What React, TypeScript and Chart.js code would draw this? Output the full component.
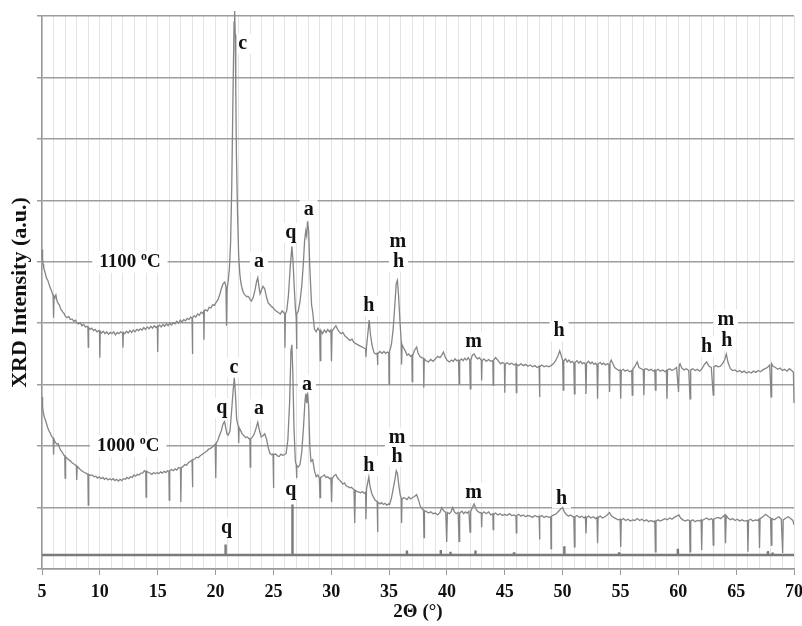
import React, { useEffect, useRef } from "react";
import { Chart, registerables } from "chart.js";

Chart.register(...registerables);

// 2θ range and tick step
const X_MIN = 5;
const X_MAX = 70;
const Y_MAX = 9000;
const Y_STEP = 1000;

// XRD pattern, sample fired at 1100 °C : [2θ, intensity]
const PATTERN_1100: [number, number][] = [
  [5.0, 5200], [5.05, 5050], [5.1, 4960], [5.15, 4900], [5.2, 4870], [5.3, 4800], [5.4, 4730], [5.5, 4700],
  [5.6, 4640], [5.7, 4580], [5.8, 4540], [5.9, 4480], [5.96, 4450], [6.0, 4090], [6.04, 4440], [6.1, 4420],
  [6.2, 4460], [6.3, 4360], [6.4, 4320], [6.5, 4300], [6.6, 4240], [6.7, 4210], [6.8, 4180], [6.9, 4160],
  [7.0, 4120], [7.15, 4090], [7.3, 4110], [7.45, 4060], [7.6, 4070], [7.75, 4030], [7.9, 4050], [8.0, 4010],
  [8.15, 3990], [8.3, 4010], [8.45, 3960], [8.6, 3980], [8.75, 3940], [8.9, 3950], [8.97, 3930], [9.0, 3610],
  [9.03, 3930], [9.15, 3900], [9.3, 3920], [9.45, 3880], [9.6, 3900], [9.75, 3860], [9.9, 3880], [9.97, 3860],
  [10.0, 3440], [10.03, 3870], [10.15, 3840], [10.3, 3870], [10.45, 3830], [10.6, 3860], [10.75, 3820],
  [10.9, 3850], [11.05, 3830], [11.2, 3860], [11.35, 3810], [11.5, 3850], [11.65, 3830], [11.8, 3860],
  [11.97, 3840], [12.0, 3600], [12.03, 3850], [12.15, 3830], [12.3, 3870], [12.45, 3840], [12.6, 3880],
  [12.75, 3850], [12.9, 3890], [13.05, 3860], [13.2, 3900], [13.35, 3880], [13.5, 3910], [13.65, 3890],
  [13.8, 3930], [13.95, 3900], [14.1, 3940], [14.25, 3910], [14.4, 3950], [14.55, 3920], [14.7, 3960],
  [14.85, 3930], [14.97, 3950], [15.0, 3530], [15.03, 3940], [15.15, 3970], [15.3, 3940], [15.45, 3980],
  [15.6, 3950], [15.75, 3990], [15.9, 3960], [16.05, 4000], [16.2, 3970], [16.35, 4010], [16.5, 3990],
  [16.65, 4030], [16.8, 4000], [16.95, 4050], [17.1, 4020], [17.25, 4060], [17.4, 4040], [17.55, 4080],
  [17.7, 4060], [17.85, 4100], [17.97, 4080], [18.0, 3500], [18.03, 4090], [18.15, 4120], [18.3, 4100],
  [18.45, 4150], [18.6, 4130], [18.75, 4180], [18.9, 4160], [18.97, 4190], [19.0, 3730], [19.03, 4200],
  [19.15, 4220], [19.3, 4200], [19.45, 4260], [19.6, 4250], [19.75, 4300], [19.9, 4290], [20.05, 4340],
  [20.2, 4380], [20.35, 4460], [20.5, 4560], [20.65, 4640], [20.8, 4670], [20.9, 4600], [20.95, 3960],
  [21.0, 4550], [21.1, 4700], [21.2, 4900], [21.3, 5300], [21.4, 6200], [21.5, 7600], [21.6, 8900],
  [21.65, 9080], [21.7, 8700], [21.75, 7800], [21.8, 6800], [21.9, 5800], [22.0, 5100], [22.1, 4800],
  [22.2, 4650], [22.3, 4560], [22.4, 4500], [22.5, 4470], [22.6, 4450], [22.7, 4430], [22.8, 4440],
  [22.9, 4420], [23.0, 4380], [23.1, 4360], [23.25, 4420], [23.4, 4530], [23.55, 4680], [23.65, 4740],
  [23.75, 4600], [23.85, 4480], [23.95, 4530], [24.1, 4600], [24.25, 4560], [24.4, 4430], [24.55, 4330],
  [24.7, 4300], [24.85, 4270], [25.0, 4250], [25.15, 4210], [25.3, 4190], [25.45, 4170], [25.6, 4150],
  [25.75, 4200], [25.9, 4170], [25.97, 4160], [26.0, 3600], [26.04, 4150], [26.15, 4200], [26.3, 4450],
  [26.45, 4900], [26.6, 5250], [26.7, 5000], [26.8, 4600], [26.9, 4250], [26.97, 4100], [27.0, 3580],
  [27.04, 4150], [27.15, 4200], [27.3, 4350], [27.45, 4600], [27.6, 5000], [27.7, 5350], [27.8, 5500],
  [27.88, 5420], [27.95, 5660], [28.05, 5500], [28.15, 4900], [28.3, 4300], [28.4, 4180], [28.55, 3900],
  [28.7, 3860], [28.85, 3920], [29.0, 3870], [29.05, 3390], [29.1, 3880], [29.25, 3830], [29.4, 3890],
  [29.55, 3850], [29.7, 3900], [29.85, 3860], [29.97, 3890], [30.02, 3380], [30.07, 3870], [30.25, 3920],
  [30.4, 3960], [30.55, 3900], [30.7, 3860], [30.85, 3830], [31.0, 3850], [31.2, 3790], [31.4, 3760],
  [31.6, 3720], [31.8, 3740], [31.95, 3690], [32.2, 3660], [32.4, 3640], [32.6, 3620], [32.8, 3600],
  [32.97, 3580], [33.0, 3450], [33.05, 3620], [33.15, 3800], [33.28, 4050], [33.4, 3800], [33.55, 3620],
  [33.7, 3520], [33.85, 3500], [33.97, 3510], [34.0, 3320], [34.04, 3500], [34.2, 3540], [34.4, 3510],
  [34.55, 3540], [34.7, 3510], [34.85, 3530], [34.97, 3520], [35.0, 3010], [35.04, 3540], [35.2, 3650],
  [35.35, 3900], [35.5, 4300], [35.62, 4650], [35.72, 4700], [35.82, 4450], [35.95, 4000], [36.05, 3700],
  [36.08, 3330], [36.12, 3650], [36.25, 3600], [36.4, 3550], [36.55, 3480], [36.7, 3500], [36.85, 3460],
  [36.97, 3480], [37.0, 3050], [37.04, 3470], [37.2, 3560], [37.38, 3610], [37.5, 3520], [37.65, 3460],
  [37.8, 3440], [37.97, 3430], [38.0, 2950], [38.04, 3420], [38.2, 3390], [38.4, 3370], [38.6, 3410],
  [38.8, 3380], [39.0, 3420], [39.2, 3460], [39.4, 3440], [39.55, 3480], [39.7, 3530], [39.85, 3450],
  [40.0, 3400], [40.2, 3370], [40.4, 3400], [40.55, 3380], [40.7, 3420], [40.85, 3390], [41.0, 3400],
  [41.06, 3010], [41.1, 3390], [41.25, 3420], [41.4, 3390], [41.55, 3430], [41.7, 3400], [41.85, 3440],
  [41.97, 3400], [42.02, 2930], [42.07, 3400], [42.2, 3480], [42.35, 3500], [42.5, 3450], [42.65, 3420],
  [42.8, 3440], [42.97, 3400], [43.0, 3070], [43.04, 3390], [43.2, 3420], [43.4, 3380], [43.6, 3410],
  [43.8, 3380], [43.97, 3390], [44.0, 2990], [44.04, 3400], [44.2, 3440], [44.35, 3410], [44.5, 3370],
  [44.65, 3340], [44.8, 3360], [44.97, 3340], [45.0, 2870], [45.04, 3330], [45.2, 3360], [45.4, 3330],
  [45.6, 3350], [45.8, 3320], [45.97, 3340], [46.0, 2870], [46.04, 3330], [46.2, 3310], [46.4, 3340],
  [46.6, 3310], [46.8, 3330], [47.0, 3300], [47.2, 3320], [47.4, 3290], [47.6, 3310], [47.8, 3280],
  [47.97, 3300], [48.0, 2800], [48.04, 3290], [48.2, 3320], [48.4, 3290], [48.6, 3310], [48.8, 3290],
  [49.0, 3310], [49.2, 3340], [49.4, 3390], [49.6, 3470], [49.75, 3550], [49.9, 3460], [50.0, 3400],
  [50.06, 2910], [50.1, 3390], [50.25, 3420], [50.4, 3370], [50.55, 3400], [50.7, 3360], [50.85, 3380],
  [50.97, 3350], [51.02, 2850], [51.07, 3360], [51.25, 3390], [51.4, 3350], [51.55, 3380], [51.7, 3340],
  [51.85, 3360], [51.97, 3330], [52.02, 2850], [52.07, 3350], [52.25, 3380], [52.4, 3340], [52.55, 3370],
  [52.7, 3330], [52.85, 3350], [52.97, 3320], [53.02, 2770], [53.07, 3340], [53.25, 3360], [53.4, 3330],
  [53.55, 3350], [53.7, 3320], [53.85, 3340], [54.0, 3330], [54.06, 2880], [54.1, 3360], [54.2, 3400],
  [54.35, 3340], [54.5, 3280], [54.7, 3250], [54.85, 3230], [54.97, 3240], [55.02, 2770], [55.07, 3230],
  [55.25, 3250], [55.4, 3220], [55.6, 3240], [55.8, 3210], [55.97, 3230], [56.02, 2830], [56.07, 3250],
  [56.25, 3300], [56.45, 3370], [56.6, 3280], [56.8, 3260], [56.97, 3240], [57.02, 2830], [57.07, 3250],
  [57.25, 3260], [57.45, 3230], [57.65, 3250], [57.85, 3220], [57.97, 3240], [58.02, 2910], [58.07, 3230],
  [58.25, 3250], [58.45, 3220], [58.65, 3240], [58.85, 3210], [58.97, 3230], [59.02, 2770], [59.07, 3240],
  [59.25, 3260], [59.45, 3230], [59.65, 3250], [59.85, 3280], [60.02, 2880], [60.08, 3320], [60.15, 3340],
  [60.3, 3270], [60.5, 3240], [60.7, 3260], [60.9, 3230], [61.02, 2770], [61.07, 3240], [61.25, 3260],
  [61.45, 3230], [61.65, 3250], [61.85, 3220], [62.05, 3260], [62.25, 3330], [62.45, 3370], [62.65, 3300],
  [62.85, 3280], [63.02, 2830], [63.07, 3290], [63.25, 3310], [63.45, 3290], [63.65, 3300], [63.85, 3350],
  [64.0, 3400], [64.15, 3500], [64.3, 3360], [64.5, 3260], [64.7, 3230], [64.9, 3240], [65.1, 3210],
  [65.3, 3230], [65.5, 3200], [65.7, 3220], [65.9, 3190], [66.1, 3210], [66.3, 3190], [66.5, 3220],
  [66.7, 3200], [66.9, 3230], [67.1, 3210], [67.3, 3240], [67.5, 3260], [67.7, 3280], [67.9, 3320],
  [68.02, 2800], [68.07, 3340], [68.2, 3300], [68.4, 3280], [68.6, 3250], [68.8, 3270], [69.0, 3230],
  [69.2, 3250], [69.4, 3220], [69.6, 3260], [69.8, 3230], [69.95, 3200], [70.0, 2700],
];

// XRD pattern, sample fired at 1000 °C : [2θ, intensity]
const PATTERN_1000: [number, number][] = [
  [5.0, 2800], [5.05, 2650], [5.1, 2560], [5.2, 2470], [5.3, 2420], [5.4, 2360], [5.5, 2300], [5.6, 2250],
  [5.7, 2220], [5.8, 2170], [5.9, 2140], [5.97, 2120], [6.0, 1860], [6.04, 2110], [6.15, 2060], [6.3, 2030],
  [6.4, 2040], [6.5, 1980], [6.6, 1940], [6.75, 1900], [6.9, 1850], [6.97, 1840], [7.0, 1480], [7.04, 1830],
  [7.15, 1800], [7.3, 1780], [7.45, 1760], [7.6, 1730], [7.75, 1710], [7.9, 1690], [7.97, 1680], [8.0, 1450],
  [8.04, 1670], [8.2, 1640], [8.35, 1610], [8.5, 1590], [8.65, 1570], [8.8, 1560], [8.97, 1540], [9.0, 1040],
  [9.04, 1540], [9.2, 1520], [9.35, 1530], [9.5, 1500], [9.65, 1510], [9.8, 1480], [9.95, 1500], [10.1, 1470],
  [10.25, 1490], [10.4, 1460], [10.55, 1480], [10.7, 1450], [10.85, 1470], [11.0, 1450], [11.15, 1470],
  [11.3, 1440], [11.45, 1460], [11.6, 1430], [11.75, 1460], [11.9, 1440], [12.05, 1470], [12.2, 1460],
  [12.35, 1490], [12.5, 1470], [12.65, 1500], [12.8, 1490], [12.95, 1530], [13.1, 1510], [13.25, 1540],
  [13.4, 1530], [13.55, 1560], [13.7, 1560], [13.85, 1600], [13.97, 1580], [14.0, 1170], [14.04, 1590],
  [14.2, 1570], [14.35, 1560], [14.5, 1540], [14.65, 1570], [14.8, 1550], [14.95, 1570], [15.1, 1550],
  [15.25, 1580], [15.4, 1560], [15.55, 1590], [15.7, 1570], [15.85, 1600], [15.97, 1590], [16.0, 1120],
  [16.04, 1600], [16.2, 1620], [16.35, 1600], [16.5, 1630], [16.65, 1610], [16.8, 1650], [16.97, 1640],
  [17.0, 1090], [17.04, 1650], [17.2, 1670], [17.35, 1700], [17.5, 1690], [17.65, 1730], [17.8, 1750],
  [17.97, 1770], [18.0, 1330], [18.04, 1780], [18.2, 1790], [18.35, 1820], [18.5, 1810], [18.65, 1840],
  [18.8, 1860], [18.95, 1880], [19.1, 1900], [19.25, 1920], [19.4, 1950], [19.55, 1960], [19.7, 1980],
  [19.85, 2010], [19.97, 2030], [20.02, 1480], [20.06, 2050], [20.2, 2090], [20.35, 2180], [20.5, 2250],
  [20.6, 2330], [20.7, 2380], [20.78, 2400], [20.88, 2300], [20.98, 2200], [21.1, 2180], [21.25, 2250],
  [21.4, 2600], [21.52, 2900], [21.62, 3110], [21.72, 2850], [21.82, 2450], [21.92, 2350], [21.97, 2330],
  [22.0, 2050], [22.04, 2300], [22.15, 2260], [22.3, 2200], [22.45, 2170], [22.6, 2140], [22.75, 2150],
  [22.9, 2120], [22.97, 2130], [23.0, 1660], [23.04, 2120], [23.2, 2150], [23.35, 2200], [23.5, 2290],
  [23.65, 2390], [23.8, 2250], [23.95, 2150], [24.1, 2170], [24.25, 2200], [24.4, 2120], [24.55, 1980],
  [24.7, 1880], [24.85, 1860], [24.97, 1870], [25.0, 1320], [25.04, 1860], [25.2, 1870], [25.35, 1840],
  [25.5, 1830], [25.65, 1870], [25.8, 1850], [25.95, 1860], [26.1, 1880], [26.25, 2100], [26.4, 2700],
  [26.52, 3550], [26.6, 3650], [26.68, 3200], [26.78, 2300], [26.9, 1750], [26.97, 1700], [27.0, 1480],
  [27.04, 1680], [27.15, 1660], [27.3, 1700], [27.45, 1900], [27.6, 2300], [27.72, 2700], [27.8, 2850],
  [27.88, 2700], [27.95, 2870], [28.05, 2640], [28.15, 2000], [28.25, 1750], [28.4, 1780], [28.55, 1600],
  [28.7, 1500], [28.85, 1530], [28.97, 1480], [29.03, 1160], [29.08, 1490], [29.25, 1510], [29.4, 1530],
  [29.55, 1490], [29.7, 1500], [29.85, 1470], [29.97, 1480], [30.03, 1090], [30.08, 1470], [30.25, 1520],
  [30.4, 1540], [30.55, 1480], [30.7, 1450], [30.85, 1420], [31.0, 1380], [31.15, 1400], [31.3, 1350],
  [31.45, 1340], [31.6, 1320], [31.75, 1330], [31.9, 1300], [31.97, 1290], [32.03, 750], [32.08, 1280],
  [32.25, 1260], [32.4, 1250], [32.55, 1240], [32.7, 1260], [32.85, 1230], [32.97, 1250], [33.0, 810],
  [33.05, 1300], [33.15, 1400], [33.25, 1500], [33.35, 1350], [33.5, 1230], [33.65, 1170], [33.8, 1120],
  [33.97, 1100], [34.0, 600], [34.04, 1090], [34.2, 1060], [34.35, 1080], [34.5, 1050], [34.65, 1070],
  [34.8, 1040], [34.97, 1060], [35.05, 1050], [35.2, 1150], [35.35, 1300], [35.5, 1450], [35.62, 1600],
  [35.72, 1560], [35.85, 1350], [35.97, 1200], [36.05, 1150], [36.08, 750], [36.12, 1140], [36.25, 1160],
  [36.4, 1150], [36.55, 1130], [36.7, 1170], [36.85, 1140], [37.0, 1160], [37.2, 1180], [37.38, 1210],
  [37.55, 1120], [37.7, 1020], [37.85, 980], [37.97, 960], [38.02, 510], [38.06, 950], [38.2, 940],
  [38.4, 910], [38.6, 930], [38.8, 900], [39.0, 910], [39.2, 880], [39.4, 920], [39.55, 1000], [39.7, 950],
  [39.9, 920], [39.98, 440], [40.04, 920], [40.2, 900], [40.35, 930], [40.5, 1000], [40.65, 930], [40.8, 900],
  [40.97, 920], [41.05, 450], [41.1, 910], [41.3, 940], [41.45, 900], [41.6, 930], [41.75, 910], [41.9, 940],
  [42.0, 600], [42.05, 930], [42.2, 1000], [42.35, 1060], [42.5, 980], [42.65, 940], [42.8, 920], [42.97, 910],
  [43.0, 680], [43.04, 900], [43.2, 930], [43.4, 900], [43.6, 930], [43.8, 880], [43.97, 900], [44.0, 640],
  [44.04, 890], [44.2, 910], [44.4, 880], [44.6, 900], [44.8, 870], [45.0, 890], [45.2, 870], [45.4, 900],
  [45.6, 870], [45.8, 880], [45.97, 860], [46.0, 590], [46.04, 870], [46.2, 890], [46.4, 860], [46.6, 880],
  [46.8, 850], [46.97, 870], [47.2, 860], [47.4, 840], [47.6, 870], [47.8, 850], [47.97, 860], [48.0, 480],
  [48.04, 850], [48.2, 870], [48.4, 840], [48.6, 860], [48.8, 840], [48.97, 850], [49.0, 330], [49.04, 860],
  [49.25, 880], [49.45, 900], [49.65, 940], [49.85, 980], [50.0, 1000], [50.15, 930], [50.3, 890], [50.5, 860],
  [50.7, 880], [50.9, 850], [50.97, 860], [51.02, 360], [51.07, 850], [51.25, 870], [51.45, 840], [51.65, 860],
  [51.85, 830], [51.97, 850], [52.02, 580], [52.07, 840], [52.25, 860], [52.45, 830], [52.65, 850],
  [52.85, 820], [52.97, 840], [53.02, 420], [53.07, 840], [53.25, 860], [53.45, 830], [53.65, 850],
  [53.85, 880], [54.05, 920], [54.2, 870], [54.4, 840], [54.6, 820], [54.8, 800], [54.97, 810], [55.02, 360],
  [55.07, 800], [55.25, 820], [55.45, 790], [55.65, 810], [55.85, 780], [56.05, 800], [56.25, 790],
  [56.45, 820], [56.65, 790], [56.85, 810], [57.05, 780], [57.25, 800], [57.45, 770], [57.65, 790],
  [57.85, 770], [57.97, 780], [58.02, 280], [58.07, 780], [58.25, 800], [58.45, 780], [58.65, 800],
  [58.85, 820], [59.05, 800], [59.25, 830], [59.45, 810], [59.65, 840], [59.85, 860], [60.05, 880],
  [60.2, 830], [60.4, 800], [60.6, 780], [60.8, 800], [60.97, 790], [61.02, 280], [61.07, 780], [61.25, 800],
  [61.45, 770], [61.65, 790], [61.85, 780], [61.97, 800], [62.02, 310], [62.07, 790], [62.25, 810],
  [62.45, 830], [62.65, 800], [62.85, 820], [62.97, 800], [63.02, 390], [63.07, 810], [63.25, 830],
  [63.45, 840], [63.65, 820], [63.85, 850], [64.02, 880], [64.08, 420], [64.14, 870], [64.3, 830],
  [64.5, 800], [64.7, 820], [64.9, 790], [65.1, 810], [65.3, 780], [65.5, 800], [65.7, 780], [65.97, 790],
  [66.02, 280], [66.07, 790], [66.25, 810], [66.45, 780], [66.65, 800], [66.85, 790], [66.97, 810],
  [67.02, 340], [67.07, 820], [67.3, 850], [67.55, 890], [67.8, 850], [67.97, 830], [68.04, 390],
  [68.09, 820], [68.3, 800], [68.5, 830], [68.7, 850], [68.9, 810], [69.02, 260], [69.07, 800], [69.3, 830],
  [69.5, 850], [69.7, 820], [69.9, 790], [70.0, 720],
];

// Quartz reference pattern (stick lines on a baseline) : [2θ, intensity]
const QUARTZ_REF: [number, number][] = [
  [5.0, 228], [20.84, 228], [20.86, 400], [20.88, 228], [26.62, 228], [26.64, 1050], [26.66, 228],
  [36.52, 228], [36.54, 300], [36.56, 228], [39.44, 228], [39.46, 310], [39.48, 228], [40.28, 228],
  [40.3, 280], [40.32, 228], [42.44, 228], [42.46, 300], [42.48, 228], [45.78, 228], [45.8, 270],
  [45.82, 228], [50.12, 228], [50.14, 370], [50.16, 228], [54.86, 228], [54.88, 270], [54.9, 228],
  [59.94, 228], [59.96, 330], [59.98, 228], [67.72, 228], [67.74, 290], [67.76, 228], [68.12, 228],
  [68.14, 270], [68.16, 228], [70.0, 228],
];

// Phase annotations: text, 2θ, intensity
const PHASE_LABELS: { t: string; x: number; y: number }[] = [
  { t: "c", x: 22.35, y: 8550 },
  { t: "a", x: 23.75, y: 5000 },
  { t: "q", x: 26.5, y: 5470 },
  { t: "a", x: 28.05, y: 5840 },
  { t: "h", x: 33.25, y: 4280 },
  { t: "m", x: 35.75, y: 5330 },
  { t: "h", x: 35.82, y: 5000 },
  { t: "m", x: 42.3, y: 3700 },
  { t: "h", x: 49.7, y: 3870 },
  { t: "h", x: 62.45, y: 3620 },
  { t: "m", x: 64.1, y: 4060 },
  { t: "h", x: 64.2, y: 3720 },
  { t: "q", x: 20.55, y: 2620 },
  { t: "c", x: 21.6, y: 3280 },
  { t: "a", x: 23.75, y: 2600 },
  { t: "a", x: 27.9, y: 3000 },
  { t: "h", x: 33.25, y: 1680 },
  { t: "m", x: 35.7, y: 2140 },
  { t: "h", x: 35.7, y: 1830 },
  { t: "m", x: 42.3, y: 1240 },
  { t: "h", x: 49.9, y: 1150 },
  { t: "q", x: 26.5, y: 1290 },
  { t: "q", x: 20.95, y: 670 },
];

// Temperature labels for each pattern
const TEMP_LABELS: { t: string; x: number; y: number }[] = [
  { t: "1100", x: 12.6, y: 5000 },
  { t: "1000", x: 12.45, y: 2000 },
];

const FONT = "'Liberation Serif', 'Times New Roman', serif";

const labelPlugin = {
  id: "phaseLabels",
  beforeDatasetsDraw(chart: any) {
    const { ctx, scales } = chart;
    const xs = scales.x;
    const ys = scales.y;
    ctx.save();
    ctx.textBaseline = "middle";
    ctx.textAlign = "center";
    ctx.font = `bold 20px ${FONT}`;
    for (const l of PHASE_LABELS) {
      const px = xs.getPixelForValue(l.x);
      const py = ys.getPixelForValue(l.y);
      const w = ctx.measureText(l.t).width;
      ctx.fillStyle = "#ffffff";
      ctx.fillRect(px - w / 2 - 4, py - 10, w + 8, 20);
      ctx.fillStyle = "#111111";
      ctx.fillText(l.t, px, py);
    }
    for (const l of TEMP_LABELS) {
      const px = xs.getPixelForValue(l.x);
      const py = ys.getPixelForValue(l.y);
      const big = `bold 19px ${FONT}`;
      const small = `bold 12px ${FONT}`;
      ctx.font = big;
      const w1 = ctx.measureText(l.t + " ").width;
      const w3 = ctx.measureText("C").width;
      ctx.font = small;
      const w2 = ctx.measureText("o").width;
      const total = w1 + w2 + w3;
      const x0 = px - total / 2;
      ctx.fillStyle = "#ffffff";
      ctx.fillRect(x0 - 7, py - 11, total + 14, 22);
      ctx.fillStyle = "#111111";
      ctx.textAlign = "left";
      ctx.font = big;
      ctx.fillText(l.t + " ", x0, py);
      ctx.font = small;
      ctx.fillText("o", x0 + w1, py - 5);
      ctx.font = big;
      ctx.fillText("C", x0 + w1 + w2, py);
      ctx.textAlign = "center";
    }
    ctx.restore();
  },
};

const toXY = (arr: [number, number][]) => arr.map(([x, y]) => ({ x, y }));

export default function App() {
  const ref = useRef<HTMLCanvasElement | null>(null);

  useEffect(() => {
    if (!ref.current) return;
    const chart = new Chart(ref.current, {
      type: "line",
      data: {
        datasets: [
          {
            label: "1100 °C",
            data: toXY(PATTERN_1100),
            borderColor: "#858585",
            borderWidth: 1.3,
            pointRadius: 0,
            tension: 0,
            clip: false as any,
          },
          {
            label: "1000 °C",
            data: toXY(PATTERN_1000),
            borderColor: "#858585",
            borderWidth: 1.3,
            pointRadius: 0,
            tension: 0,
          },
          {
            label: "quartz",
            data: toXY(QUARTZ_REF),
            borderColor: "#7a7a7a",
            borderWidth: 2.4,
            pointRadius: 0,
            tension: 0,
          },
        ],
      },
      options: {
        animation: false,
        responsive: false,
        events: [],
        layout: { padding: { top: 16, right: 8, left: 0, bottom: 0 } },
        plugins: {
          legend: { display: false },
          tooltip: { enabled: false },
        },
        scales: {
          x: {
            type: "linear",
            min: X_MIN,
            max: X_MAX,
            afterFit: (s: any) => {
              s.height = 57;
              s.paddingLeft = 0;
              s.paddingRight = 0;
            },
            ticks: {
              stepSize: 1,
              autoSkip: false,
              maxRotation: 0,
              padding: 7,
              color: "#111",
              font: { family: FONT, size: 18, weight: "bold" },
              callback: (v: any) => (Number(v) % 5 === 0 ? String(v) : ""),
            },
            grid: {
              color: "#e3e3e3",
              lineWidth: 1,
              tickLength: 6,
              tickColor: (c: any) => (c.tick && c.tick.value % 5 === 0 ? "#9a9a9a" : "rgba(0,0,0,0)"),
            },
            border: { color: "#9a9a9a", width: 1.5 },
            title: {
              display: true,
              text: "2Θ (°)",
              color: "#111",
              font: { family: FONT, size: 19, weight: "bold" },
              padding: { top: 0, bottom: 3 },
            },
          },
          y: {
            type: "linear",
            min: 0,
            max: Y_MAX,
            afterFit: (s: any) => {
              s.width = 42;
              s.paddingTop = 0;
              s.paddingBottom = 0;
            },
            ticks: {
              stepSize: Y_STEP,
              callback: () => "",
            },
            grid: {
              color: "#9d9d9d",
              lineWidth: 1.5,
              tickLength: 5,
              tickColor: "#9d9d9d",
            },
            border: { color: "#9a9a9a", width: 1.5 },
            title: {
              display: true,
              text: "XRD Intensity (a.u.)",
              color: "#111",
              font: { family: FONT, size: 22, weight: "bold" },
              padding: { top: 7, bottom: 0 },
            },
          },
        },
      },
      plugins: [labelPlugin],
    });
    return () => chart.destroy();
  }, []);

  return (
    <div style={{ position: "fixed", left: 0, top: 0, width: 802, height: 626, background: "#fff" }}>
      <canvas ref={ref} width={802} height={626} style={{ display: "block" }} />
    </div>
  );
}
